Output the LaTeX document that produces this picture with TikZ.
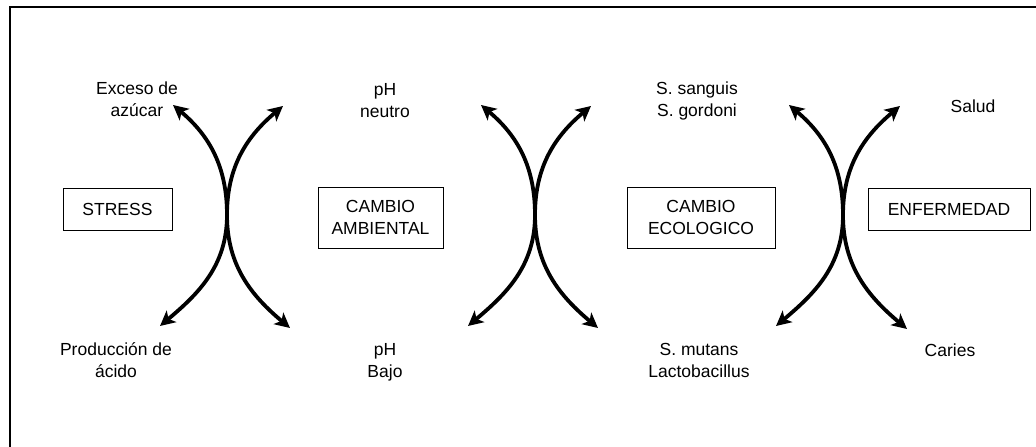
\documentclass[tikz,border=0pt]{standalone}
\usepackage{fontspec}
\setmainfont{Liberation Sans}
\usetikzlibrary{arrows.meta}

\begin{document}
\begin{tikzpicture}[x=1pt, y=1pt, font=\fontsize{17.5}{22}\selectfont]
    % Define styles
    \tikzset{
        stage/.style={rectangle, draw, line width=0.9pt, minimum height=42pt, align=center, inner sep=2pt},
        factor/.style={align=center, anchor=base, inner sep=0pt},
        crossarrow/.style={{Stealth[length=15pt, width=15pt, inset=4pt]}-{Stealth[length=15pt, width=15pt, inset=4pt]}, line width=3.8pt},
    }

    \useasboundingbox (0,0) rectangle (1036,447);
    \clip (0,0) rectangle (1036,447);

    % Frame
    \draw[line width=1.2pt] (10,-10) -- (10,440) -- (1050,440);

    % Stages
    \node[stage, minimum width=109pt] (stress) at (117.5,238) {STRESS};
    \node[stage, minimum width=125pt, minimum height=61pt] (ambiental) at (380.5,229.5) {CAMBIO\\AMBIENTAL};
    \node[stage, minimum width=148pt, minimum height=61pt] (ecologico) at (701,229.5) {CAMBIO\\ECOLOGICO};
    \node[stage, minimum width=162pt] (enfermedad) at (949,238) {ENFERMEDAD};

    % Factors above and below
    \node[factor] (exceso) at (137,330) {Exceso de\\azúcar};
    \node[factor] (produccion) at (116,69) {Producción de\\ácido};
    \node[factor] (neutro) at (385,329) {pH\\neutro};
    \node[factor] (bajo) at (385,69) {pH\\Bajo};
    \node[factor] (sanguis) at (697,330) {S. sanguis\\S. gordoni};
    \node[factor] (mutans) at (699,69) {S. mutans\\Lactobacillus};
    \node[factor] (salud) at (973,334) {Salud};
    \node[factor] (caries) at (950,90) {Caries};

    % Arrow ends, first cross
    \coordinate (mid1) at (227,232);
    \coordinate (tl1) at (173,342);
    \coordinate (tr1) at (283,341);
    \coordinate (bl1) at (160,121);
    \coordinate (br1) at (290,119);

    % Arrow ends, second cross
    \coordinate (mid2) at (535,232);
    \coordinate (tl2) at (481,342);
    \coordinate (tr2) at (591,341);
    \coordinate (bl2) at (468,121);
    \coordinate (br2) at (598,119);

    % Arrow ends, third cross
    \coordinate (mid3) at (843,232);
    \coordinate (tl3) at (789,342);
    \coordinate (tr3) at (900,341);
    \coordinate (bl3) at (776,121);
    \coordinate (br3) at (907,118);

    % Arrows
    \draw[crossarrow] (tl1) to[out=-40, in=90] (mid1) to[out=-90, in=40] (bl1);
    \draw[crossarrow] (tr1) to[out=-140, in=90] (mid1) to[out=-90, in=140] (br1);
    \draw[crossarrow] (tl2) to[out=-40, in=90] (mid2) to[out=-90, in=40] (bl2);
    \draw[crossarrow] (tr2) to[out=-140, in=90] (mid2) to[out=-90, in=140] (br2);
    \draw[crossarrow] (tl3) to[out=-40, in=90] (mid3) to[out=-90, in=40] (bl3);
    \draw[crossarrow] (tr3) to[out=-140, in=90] (mid3) to[out=-90, in=140] (br3);
\end{tikzpicture}
\end{document}
